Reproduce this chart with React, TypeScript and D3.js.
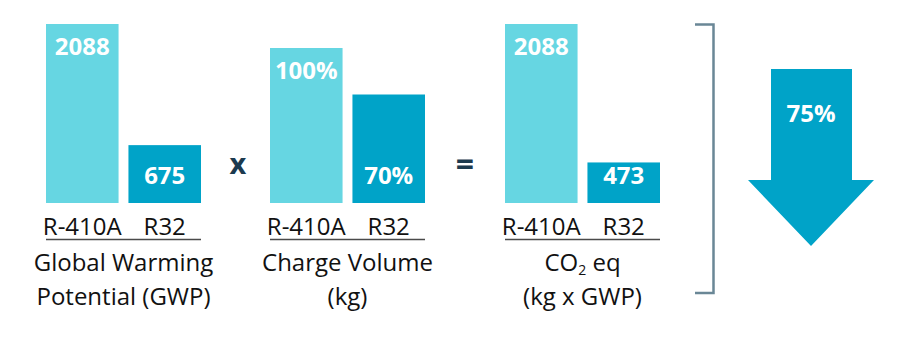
import React from 'react';
import * as d3 from 'd3';

// refrigerants compared in every panel
const refrigerants = ['R-410A', 'R32'];

// panel values
const gwpValues = [2088, 675];
const chargeValues = [100, 70];
const co2Values = [2088, 473];

// labels printed on the bars
const gwpLabels = ['2088', '675'];
const chargeLabels = ['100%', '70%'];
const co2Labels = ['2088', '473'];

// panel titles (two lines each)
const gwpTitle = ['Global Warming', 'Potential (GWP)'];
const chargeTitle = ['Charge Volume', '(kg)'];
const co2Title = ['CO2 eq', '(kg x GWP)'];

const operators = ['x', '='];
const reductionLabel = '75%';

const WIDTH = 907;
const HEIGHT = 359;
const FONT = "'Open Sans', 'DejaVu Sans', sans-serif";
const LIGHT = '#66d6e2';
const DARK = '#00a3c8';
const INK = '#111111';
const OPERATOR_INK = '#1c3a4e';

const baseY = 203;
const colors = [LIGHT, DARK];

const Panel = ({x0, values, labels, title, yMax, yTop}: any) => {
    let x = d3.scaleBand()
        .domain(refrigerants)
        .range([x0, x0 + 155])
        .paddingInner(0.12)
        .paddingOuter(0);

    let y = d3.scaleLinear()
        .domain([0, yMax])
        .range([baseY, yTop]);

    return (
        <g>
            {refrigerants.map((r, i) => (
                <rect key={r}
                    x={x(r)} y={y(values[i])}
                    width={x.bandwidth()} height={baseY - y(values[i])}
                    fill={colors[i]} />
            ))}
            {refrigerants.map((r, i) => (
                <text key={'v' + r}
                    x={x(r)! + x.bandwidth() / 2}
                    y={i === 0 ? y(values[i]) + 31 : baseY - 19}
                    textAnchor="middle" fill="#fff"
                    fontFamily={FONT} fontWeight={700} fontSize={24}>
                    {labels[i]}
                </text>
            ))}
            {refrigerants.map((r) => (
                <text key={'c' + r}
                    x={x(r)! + x.bandwidth() / 2} y={235}
                    textAnchor="middle" fill={INK}
                    fontFamily={FONT} fontSize={24}>
                    {r}
                </text>
            ))}
            <line x1={x0} x2={x0 + 155} y1={239.5} y2={239.5} stroke="#4a4a4a" strokeWidth={1.5} />
            {title.map((t: string, i: number) => {
                let cx = x0 + 77.5
                if (t === 'CO2 eq') {
                    return (
                        <text key={t} x={cx} y={271 + i * 34} textAnchor="middle" fill={INK}
                            fontFamily={FONT} fontSize={24}>
                            CO<tspan fontSize={14} dy={4}>2</tspan><tspan dy={-4}> eq</tspan>
                        </text>
                    )
                }
                return (
                    <text key={t} x={cx} y={271 + i * 34} textAnchor="middle" fill={INK}
                        fontFamily={FONT} fontSize={24}>
                        {t}
                    </text>
                )
            })}
        </g>
    )
}

export default function App() {
    // down arrow for the reduction
    let arrow = d3.line()([
        [771, 69], [852, 69], [852, 180], [874, 180],
        [811, 246], [748, 180], [771, 180],
    ]) + 'Z';

    return (
        <svg width={WIDTH} height={HEIGHT}
            style={{position: 'absolute', left: 0, top: 0, background: '#fff'}}>
            <Panel x0={46} values={gwpValues} labels={gwpLabels} title={gwpTitle} yMax={2088} yTop={24} />
            <Panel x0={270} values={chargeValues} labels={chargeLabels} title={chargeTitle} yMax={100} yTop={48} />
            <Panel x0={505} values={co2Values} labels={co2Labels} title={co2Title} yMax={2088} yTop={24} />

            <text x={238} y={174} textAnchor="middle" fill={OPERATOR_INK}
                fontFamily={FONT} fontWeight={700} fontSize={29}>{operators[0]}</text>
            <text x={465} y={176} textAnchor="middle" fill={OPERATOR_INK}
                fontFamily={FONT} fontWeight={700} fontSize={32}>{operators[1]}</text>

            <path d="M695,24.5 H713.5 V293 H695" fill="none" stroke="#6a8796" strokeWidth={2.5} />

            <path d={arrow} fill={DARK} />
            <text x={811} y={122} textAnchor="middle" fill="#fff"
                fontFamily={FONT} fontWeight={700} fontSize={24}>{reductionLabel}</text>
        </svg>
    )
}
